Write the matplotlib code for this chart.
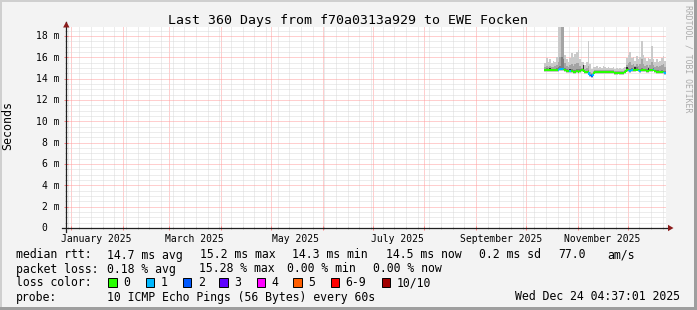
import numpy as np
import pandas as pd
import matplotlib
matplotlib.use('Agg')
import matplotlib.pyplot as plt
from matplotlib.patches import Polygon, Rectangle
from matplotlib.lines import Line2D
from matplotlib.transforms import offset_copy

# ---------------- data ----------------
title = "Last 360 Days from f70a0313a929 to EWE Focken"
t_start = "2024-12-29 04:37:01"
t_end = "2025-12-24 04:37:01"
data_start = "2025-10-12"

# daily median rtt (ms), Oct 12 .. Dec 23 2025
median_ms = [14.80, 14.82, 14.78, 14.80, 14.85, 14.80, 14.78, 14.82,
             14.85, 14.88, 14.90, 14.86, 14.80,
             14.72, 14.70, 14.68, 14.75, 14.62, 14.58, 14.70, 14.65, 14.72, 14.80,
             14.85,
             14.62, 14.60, 14.65,
             14.35, 14.28, 14.45,
             14.62, 14.60, 14.58, 14.60, 14.62, 14.60, 14.58, 14.60, 14.60, 14.62,
             14.60, 14.58, 14.55, 14.55, 14.57, 14.55, 14.52, 14.55, 14.60,
             14.80, 14.78, 14.75, 14.82, 14.80, 14.78, 14.85, 14.80, 14.75, 14.80,
             14.78, 14.80, 14.75, 14.72, 14.78, 14.80, 14.85, 14.70, 14.65, 14.62,
             14.60, 14.62, 14.58, 14.55]
# slowest ping (ms)
smoke_max = [15.5, 15.9, 15.6, 15.8, 15.5, 15.7, 15.6, 16.0,
             19.5, 19.5, 19.5, 19.5, 16.2,
             15.8, 15.6, 15.9, 16.4, 16.0, 16.3, 16.5, 16.7, 15.8, 15.6,
             15.6,
             15.3, 15.6, 17.5,
             15.4, 14.9, 15.1,
             15.1, 15.2, 15.0, 15.1, 15.0, 15.2, 15.1, 15.0, 15.1, 15.0,
             15.0, 15.1, 14.9, 15.0, 14.9, 15.0, 14.9, 15.0, 15.1,
             15.9, 16.2, 16.5, 15.9, 16.0, 15.7, 16.1, 15.8, 16.0, 17.55,
             16.2, 15.9, 15.7, 15.9, 15.8, 17.05, 15.8, 15.6, 15.8, 15.6,
             15.7, 15.9, 16.1, 15.7]
# 9th ping (ms)
smoke_p9 = [15.1, 15.2, 15.1, 15.2, 15.1, 15.1, 15.2, 15.3,
            15.6, 16.0, 19.5, 19.5, 15.5,
            15.2, 15.1, 15.3, 15.4, 15.2, 15.4, 15.5, 15.5, 15.2, 15.0,
            15.3,
            14.9, 15.0, 15.2,
            14.6, 14.5, 14.7,
            14.8, 14.85, 14.8, 14.8, 14.8, 14.85, 14.8, 14.8, 14.8, 14.8,
            14.8, 14.8, 14.75, 14.75, 14.75, 14.75, 14.7, 14.75, 14.8,
            15.3, 15.5, 15.6, 15.3, 15.4, 15.2, 15.4, 15.2, 15.4, 15.8,
            15.4, 15.2, 15.3, 15.1, 15.3, 15.6, 15.3, 15.1, 15.2, 15.1,
            15.2, 15.3, 15.4, 15.1]
# 8th ping (ms)
smoke_p8 = [14.95, 15.0, 14.9, 14.95, 14.95, 14.9, 14.95, 15.0,
            15.1, 15.2, 16.0, 15.8, 15.0,
            14.9, 14.85, 14.9, 14.95, 14.85, 14.8, 14.9, 14.9, 14.9, 14.9,
            15.25,
            14.75, 14.75, 14.8,
            14.45, 14.4, 14.55,
            14.7, 14.7, 14.68, 14.7, 14.7, 14.7, 14.68, 14.7, 14.7, 14.7,
            14.7, 14.68, 14.65, 14.65, 14.66, 14.65, 14.62, 14.65, 14.7,
            15.05, 15.0, 14.95, 15.0, 14.95, 14.95, 15.05, 14.95, 14.9, 15.0,
            14.95, 14.95, 14.9, 14.9, 14.95, 14.95, 15.0, 14.85, 14.8, 14.8,
            14.75, 14.8, 14.75, 14.7]
# 6th ping (ms) -- innermost band
smoke_p6 = [14.85, 14.85, 14.8, 15.0, 14.9, 14.85, 14.8, 14.9,
            14.9, 14.95, 15.0, 14.95, 14.85,
            14.8, 14.75, 14.95, 14.8, 14.7, 14.65, 14.8, 14.7, 14.8, 14.85,
            15.25,
            14.7, 14.65, 14.7,
            14.4, 14.35, 14.5,
            14.65, 14.62, 14.6, 14.62, 14.65, 14.62, 14.6, 14.62, 14.62, 14.65,
            14.62, 14.6, 14.58, 14.58, 14.6, 14.58, 14.55, 14.58, 14.62,
            15.05, 14.82, 14.8, 14.86, 14.85, 15.05, 14.9, 14.85, 14.8, 14.85,
            14.82, 14.85, 14.8, 15.0, 14.82, 14.85, 14.9, 14.75, 14.7, 14.66,
            14.64, 14.66, 14.62, 14.6]
# fastest ping (ms)
smoke_min = [14.62, 14.64, 14.60, 14.62, 14.66, 14.62, 14.60, 14.64,
             14.66, 14.70, 14.70, 14.68, 14.62,
             14.55, 14.52, 14.50, 14.57, 14.45, 14.42, 14.52, 14.48, 14.55, 14.62,
             14.66,
             14.45, 14.42, 14.47,
             14.18, 14.10, 14.28,
             14.45, 14.43, 14.41, 14.43, 14.45, 14.43, 14.41, 14.43, 14.43, 14.45,
             14.43, 14.41, 14.38, 14.38, 14.40, 14.38, 14.35, 14.38, 14.43,
             14.62, 14.60, 14.57, 14.64, 14.62, 14.60, 14.67, 14.62, 14.57, 14.62,
             14.60, 14.62, 14.57, 14.54, 14.60, 14.62, 14.67, 14.52, 14.47, 14.45,
             14.43, 14.45, 14.41, 14.38]
# lost pings (of 10)
loss = [0, 0, 0, 0, 0, 0, 0, 0,
        1, 1, 1, 1, 0,
        0, 0, 1, 0, 0, 0, 0, 0, 0, 0,
        0,
        0, 0, 0,
        1, 2, 1,
        0, 0, 0, 0, 0, 0, 0, 0, 0, 0,
        0, 0, 0, 0, 0, 0, 0, 0, 0,
        0, 0, 1, 1, 0, 0, 0, 0, 1, 0,
        0, 0, 0, 0, 0, 0, 1, 0, 0, 0,
        0, 0, 0, 1]

loss_labels = ["0", "1", "2", "3", "4", "5", "6-9", "10/10"]
loss_colors = ["#26ff00", "#00b8ff", "#0059ff", "#5e00ff", "#ff00ff",
               "#ff5e00", "#ff0000", "#a10000"]

month_labels = ["January 2025", "March 2025", "May 2025", "July 2025",
                "September 2025", "November 2025"]
month_label_dates = ["2025-01-16", "2025-03-16", "2025-05-16", "2025-07-16",
                     "2025-09-16", "2025-11-16"]
ytick_vals = [0, 2, 4, 6, 8, 10, 12, 14, 16, 18]

stats_rtt = [("median rtt:", 16), ("14.7 ms avg", 107.3), ("15.2 ms max", 200),
             ("14.3 ms min", 292), ("14.5 ms now", 386), ("0.2 ms sd", 479.3),
             ("77.0", 558.3), ("am/s", 607.3)]
stats_loss = [("packet loss:", 16), ("0.18 % avg", 107.3), ("15.28 % max", 199),
              ("0.00 % min", 287), ("0.00 % now", 372.7)]
probe_text = "10 ICMP Echo Pings (56 Bytes) every 60s"
stamp_text = "Wed Dec 24 04:37:01 2025"

# ---------------- figure ----------------
W, H = 697, 310
fig = plt.figure(figsize=(W / 100, H / 100), dpi=100, facecolor='#F3F3F3')
MONO = 'DejaVu Sans Mono'


def fx(x):
    return x / W


def fy(y):
    return 1 - y / H


# frame shading
fig.add_artist(Rectangle((0, fy(2)), 1, 2 / H, transform=fig.transFigure,
                         color='#CFCFCF', lw=0, zorder=0))
fig.add_artist(Rectangle((0, 0), 2 / W, 1, transform=fig.transFigure,
                         color='#CFCFCF', lw=0, zorder=0))
fig.add_artist(Rectangle((fx(W - 3), 0), 3 / W, 1, transform=fig.transFigure,
                         color='#9E9E9E', lw=0, zorder=0))
fig.add_artist(Rectangle((0, 0), 1, 3 / H, transform=fig.transFigure,
                         color='#9E9E9E', lw=0, zorder=0))

x0, y_top, x_w, y_zero = 66.3, 27.0, 600.0, 228.0
ax = fig.add_axes([fx(x0), fy(y_zero), x_w / W, (y_zero - y_top) / H])
ax.set_facecolor('white')
for s in ax.spines.values():
    s.set_visible(False)

ts = pd.Timestamp(t_start)
te = pd.Timestamp(t_end)
ax.set_xlim(ts, te)
ax.set_ylim(0, 18.84)

ax.set_xticks(pd.date_range("2025-01-01", "2025-12-01", freq="MS"))
ax.set_xticks(pd.date_range("2024-12-30", "2025-12-22", freq="7D"), minor=True)
ax.set_yticks(np.arange(0, 19, 2))
ax.set_yticks(np.arange(0, 19, 0.5), minor=True)
ax.tick_params(which='both', labelbottom=False, labelleft=False)
ax.tick_params(which='major', length=2.2, width=0.72, direction='inout', color='#FF8080')
ax.tick_params(which='minor', length=1.5, width=0.72, direction='inout', color='#BBBBBB')
ax.grid(which='minor', color='#DADADA', linestyle=(0, (1, 1)), linewidth=0.72, zorder=0)
ax.grid(which='major', color='#FF9E9E', linestyle=(0, (1, 1)), linewidth=0.72, zorder=0)
ax.set_axisbelow(True)

# data edges
days = pd.date_range(data_start, periods=len(median_ms) + 1, freq="D")
ext = lambda a: np.append(np.asarray(a, float), a[-1])
med = np.asarray(median_ms, float)

ax.fill_between(days, ext(smoke_min), ext(smoke_max), step='post',
                color='#CACACA', lw=0, zorder=2)
ax.fill_between(days, ext(median_ms), ext(smoke_p9), step='post',
                color='#A4A4A4', lw=0, zorder=3)
ax.fill_between(days, ext(median_ms), ext(smoke_p8), step='post',
                color='#7E7E7E', lw=0, zorder=4)
ax.fill_between(days, ext(median_ms), ext(smoke_p6), step='post',
                color='#323232', lw=0, zorder=5)


# median line coloured by loss
def loss_color(n):
    if n <= 5:
        return loss_colors[n]
    if n < 10:
        return loss_colors[6]
    return loss_colors[7]


for k in range(len(med)):
    c = loss_color(loss[k])
    ax.plot([days[k], days[k + 1]], [med[k], med[k]], color=c, lw=1.5,
            solid_capstyle='butt', zorder=6)
    if k > 0:
        ax.plot([days[k], days[k]], [med[k - 1], med[k]], color=c, lw=1.5,
                solid_capstyle='butt', zorder=6)

# axis lines & arrows
fig.add_artist(Line2D([fx(62), fx(669)], [fy(y_zero), fy(y_zero)],
                      transform=fig.transFigure, color='#202020', lw=0.9, zorder=10))
fig.add_artist(Line2D([fx(x0), fx(x0)], [fy(232), fy(22)],
                      transform=fig.transFigure, color='#202020', lw=0.9, zorder=10))
fig.add_artist(Polygon([(fx(668), fy(224.8)), (fx(668), fy(231.2)), (fx(673.5), fy(228))],
                       closed=True, transform=fig.transFigure, color='#8B1C1C', lw=0, zorder=11))
fig.add_artist(Polygon([(fx(63.1), fy(27.5)), (fx(69.5), fy(27.5)), (fx(66.3), fy(21.5))],
                       closed=True, transform=fig.transFigure, color='#8B1C1C', lw=0, zorder=11))

# y tick labels
ylab_tr = offset_copy(ax.get_yaxis_transform(), fig=fig, x=-6.3, y=-3.4, units='dots')
ylab_tr0 = offset_copy(ax.get_yaxis_transform(), fig=fig, x=-18.8, y=-3.4, units='dots')
for v in ytick_vals:
    if v == 0:
        ax.text(0, v, "0", transform=ylab_tr0, ha='right', va='baseline',
                fontsize=7, family=MONO, color='black', clip_on=False)
    else:
        ax.text(0, v, f"{v} m", transform=ylab_tr, ha='right', va='baseline',
                fontsize=7, family=MONO, color='black', clip_on=False)

# x tick labels
xlab_tr = offset_copy(ax.get_xaxis_transform(), fig=fig, x=0, y=-13.5, units='dots')
for lab, d in zip(month_labels, month_label_dates):
    ax.text(pd.Timestamp(d), 0, lab, transform=xlab_tr, ha='center', va='baseline',
            fontsize=7, family=MONO, color='black', clip_on=False)

# titles
fig.text(fx(347.5), fy(24), title, ha='center', va='baseline', fontsize=9.5,
         family=MONO, color='black')
fig.text(fx(14), fy(125), "Seconds", rotation=90, ha='right', va='center',
         fontsize=8.4, family=MONO, color='black')
fig.text(fx(688), fy(59), "RRDTOOL / TOBI OETIKER", rotation=270, ha='center',
         va='center', fontsize=5.9, family=MONO, color='#ABABAB')

# legend
LS = 8.3
for txt, x in stats_rtt:
    fig.text(fx(x), fy(258.5), txt, ha='left', va='baseline', fontsize=LS, family=MONO)
for txt, x in stats_loss:
    fig.text(fx(x), fy(272.5), txt, ha='left', va='baseline', fontsize=LS, family=MONO)
fig.text(fx(16), fy(286.5), "loss color:", ha='left', va='baseline', fontsize=LS, family=MONO)
box_x = [108.3, 145.7, 182.7, 219.3, 256.7, 293.3, 330.7, 381.7]
for bx, lab, col in zip(box_x, loss_labels, loss_colors):
    fig.add_artist(Rectangle((fx(bx), fy(286.5)), 8.3 / W, 8.3 / H,
                             transform=fig.transFigure, facecolor=col,
                             edgecolor='black', lw=0.7, zorder=5))
    fig.text(fx(bx + 15), fy(286.5), lab, ha='left', va='baseline', fontsize=LS, family=MONO)
fig.text(fx(16), fy(300.5), "probe:", ha='left', va='baseline', fontsize=LS, family=MONO)
fig.text(fx(107.3), fy(300.5), probe_text, ha='left', va='baseline', fontsize=LS, family=MONO)
fig.text(fx(680), fy(300.5), stamp_text, ha='right', va='baseline', fontsize=LS, family=MONO)

fig.savefig("out.png", dpi=100, facecolor=fig.get_facecolor())
